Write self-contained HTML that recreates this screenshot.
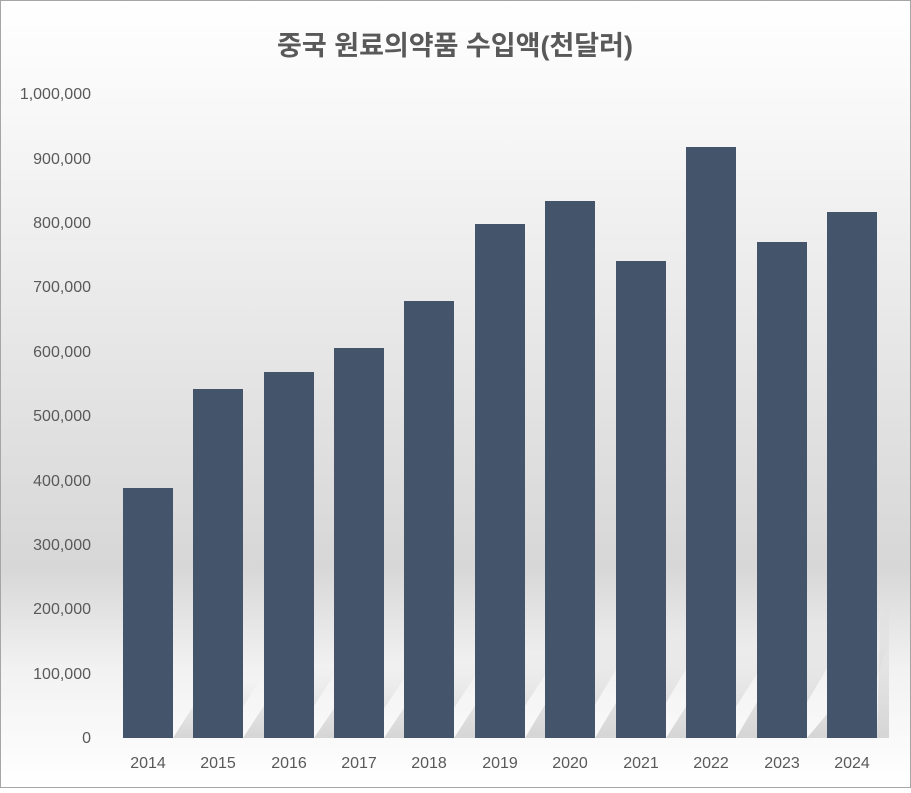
<!DOCTYPE html>
<html><head><meta charset="utf-8"><style>
html,body{margin:0;padding:0}
body{width:911px;height:788px;overflow:hidden;font-family:"Liberation Sans","Noto Sans CJK KR",sans-serif}
</style></head><body>
<svg width="911" height="788" xmlns="http://www.w3.org/2000/svg">
<defs>
<linearGradient id="bg" x1="0" y1="0" x2="0" y2="1">
<stop offset="0" stop-color="#ffffff"/>
<stop offset="0.1" stop-color="#fafafa"/>
<stop offset="0.5" stop-color="#e3e3e3"/>
<stop offset="0.72" stop-color="#d7d7d7"/>
<stop offset="0.85" stop-color="#f2f2f2"/>
<stop offset="1" stop-color="#ffffff"/>
</linearGradient>
<linearGradient id="sh" x1="0" y1="0" x2="0" y2="1">
<stop offset="0" stop-color="#bbbbbb" stop-opacity="0"/>
<stop offset="1" stop-color="#a8a8a8" stop-opacity="0.45"/>
</linearGradient>
</defs>
<rect x="0.5" y="0.5" width="910" height="787" fill="url(#bg)" stroke="#a6a6a6"/>
<text x="455" y="55" text-anchor="middle" font-size="27" font-weight="bold" fill="#595959">중국 원료의약품 수입액(천달러)</text>
<g font-size="16" fill="#595959" text-anchor="end">
<text x="91" y="99">1,000,000</text>
<text x="91" y="164">900,000</text>
<text x="91" y="228">800,000</text>
<text x="91" y="292">700,000</text>
<text x="91" y="357">600,000</text>
<text x="91" y="421">500,000</text>
<text x="91" y="486">400,000</text>
<text x="91" y="550">300,000</text>
<text x="91" y="614">200,000</text>
<text x="91" y="679">100,000</text>
<text x="91" y="743">0</text>
</g>
<g fill="url(#sh)">
<polygon points="173,738 223,738 260,680 210,680"/>
<polygon points="243,738 293,738 340,666 290,666"/>
<polygon points="314,738 364,738 414,664 364,664"/>
<polygon points="384,738 434,738 486,660 436,660"/>
<polygon points="454,738 504,738 560,652 510,652"/>
<polygon points="525,738 575,738 635,638 585,638"/>
<polygon points="595,738 645,738 707,634 657,634"/>
<polygon points="666,738 716,738 776,644 726,644"/>
<polygon points="736,738 786,738 853,624 803,624"/>
<polygon points="807,738 857,738 889,640 889,640"/>
<polygon points="877,738 889,738 889,600 880,620"/>
</g>
<g fill="#44546a">
<rect x="123" y="488" width="50" height="250"/>
<rect x="193" y="389" width="50" height="349"/>
<rect x="264" y="372" width="50" height="366"/>
<rect x="334" y="348" width="50" height="390"/>
<rect x="404" y="301" width="50" height="437"/>
<rect x="475" y="224" width="50" height="514"/>
<rect x="545" y="201" width="50" height="537"/>
<rect x="616" y="261" width="50" height="477"/>
<rect x="686" y="147" width="50" height="591"/>
<rect x="757" y="242" width="50" height="496"/>
<rect x="827" y="212" width="50" height="526"/>
</g>
<g font-size="16" fill="#595959" text-anchor="middle">
<text x="148" y="768">2014</text>
<text x="218" y="768">2015</text>
<text x="289" y="768">2016</text>
<text x="359" y="768">2017</text>
<text x="429" y="768">2018</text>
<text x="500" y="768">2019</text>
<text x="570" y="768">2020</text>
<text x="641" y="768">2021</text>
<text x="711" y="768">2022</text>
<text x="782" y="768">2023</text>
<text x="852" y="768">2024</text>
</g>
</svg>
</body></html>
